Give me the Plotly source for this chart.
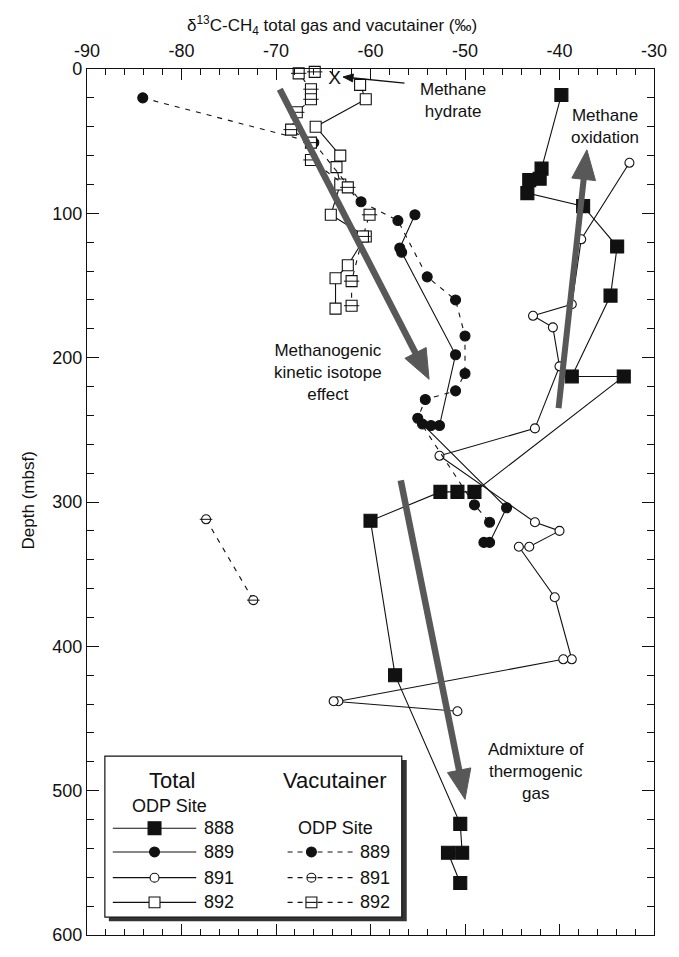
import math
import plotly.graph_objects as go

# ---------------- data (delta13C-CH4 permil, depth mbsf) ----------------
site888_total_d13c = [-39.8, -41.9, -42.1, -43.2, -43.4, -37.5, -33.9, -34.6, -38.7, -33.2,
                      -49.0, -50.8, -52.6, -60.0, -57.4, -50.5, -50.3, -51.8, -50.5]
site888_total_depth = [18, 69, 76, 77, 86, 95, 123, 157, 213, 213,
                       293, 293, 293, 313, 420, 523, 543, 543, 564]

site889_total_d13c = [-55.3, -56.9, -56.7, -51.0, -52.7, -53.6, -54.5, -45.6, -47.4, -48.0]
site889_total_depth = [101, 124, 127, 198, 247, 247, 246, 304, 328, 328]

site891_total_d13c = [-32.6, -37.7, -38.7, -42.8, -40.7, -40.0, -42.6, -52.7, -42.6, -40.0,
                      -43.2, -44.3, -40.5, -38.7, -39.6, -63.4, -63.9, -50.8]
site891_total_depth = [65, 118, 163, 171, 179, 206, 249, 268, 314, 320,
                       331, 331, 366, 409, 409, 438, 438, 445]

site892_total_d13c = [-61.1, -60.5, -65.8, -63.2, -63.6, -63.2, -64.2, -60.5, -62.4, -63.7, -63.7]
site892_total_depth = [11, 21, 40, 60, 68, 80, 101, 116, 136, 145, 166]

site889_vac_d13c = [-84.1, -66.0, -61.0, -57.1, -54.0, -51.0, -50.0, -50.0, -51.0, -54.2, -55.0, -49.0, -47.4]
site889_vac_depth = [20, 51, 92, 105, 144, 160, 185, 211, 223, 229, 242, 302, 314]

site891_vac_d13c = [-77.4, -72.4]
site891_vac_depth = [312, 368]

site892_vac_d13c = [-65.9, -67.6, -66.3, -66.3, -67.8, -68.4, -66.3, -66.3, -62.4, -60.1, -60.8, -62.0, -62.0]
site892_vac_depth = [2, 3, 14, 21, 30, 42, 51, 63, 82, 101, 116, 147, 164]

hydrate_d13c = [-63.8]
hydrate_depth = [7]

x_tick_values = [-90, -80, -70, -60, -50, -40, -30]
x_tick_labels = ["-90", "-80", "-70", "-60", "-50", "-40", "-30"]
y_tick_values = [0, 100, 200, 300, 400, 500, 600]
y_tick_labels = ["0", "100", "200", "300", "400", "500", "600"]

legend_total_sites = ["888", "889", "891", "892"]
legend_vac_sites = ["889", "891", "892"]

# ---------------- style ----------------
FONT = "Liberation Sans, Arial, Helvetica, sans-serif"
INK = "#111111"
ARROW = "#585858"
W, H = 679, 957
PL, PR, PT, PB = 87, 658, 69, 945
X0, X1, Y0, Y1 = -90.0, -30.0, 0.0, 600.0
SX = (PR - PL) / (X1 - X0)
SY = (PB - PT) / (Y1 - Y0)


def px(x):
    return (x - PL) / (PR - PL)


def py(y):
    return (PB - y) / (PB - PT)


fig = go.Figure()


def add_series(x, y, symbol, fill, size, dash, bar=False):
    fig.add_trace(go.Scatter(
        x=x, y=y, mode="lines+markers",
        line=dict(color=INK, width=1.1, dash=dash),
        marker=dict(symbol=symbol, size=size, color=fill, line=dict(color=INK, width=1.1)),
        showlegend=False, hoverinfo="skip", cliponaxis=False))
    if bar:
        fig.add_trace(go.Scatter(
            x=x, y=y, mode="markers",
            marker=dict(symbol="line-ew", size=size, line=dict(color=INK, width=1)),
            showlegend=False, hoverinfo="skip", cliponaxis=False))


DASH = "5px,6px"
add_series(site888_total_d13c, site888_total_depth, "square", INK, 13, "solid")
add_series(site889_total_d13c, site889_total_depth, "circle", INK, 10, "solid")
add_series(site891_total_d13c, site891_total_depth, "circle", "white", 9, "solid")
add_series(site892_total_d13c, site892_total_depth, "square", "white", 11, "solid")
add_series(site889_vac_d13c, site889_vac_depth, "circle", INK, 10, DASH)
add_series(site891_vac_d13c, site891_vac_depth, "circle", "white", 9, DASH, bar=True)
add_series(site892_vac_d13c, site892_vac_depth, "square", "white", 11, DASH, bar=True)

fig.add_trace(go.Scatter(
    x=hydrate_d13c, y=hydrate_depth, mode="text", text=["X"],
    textfont=dict(family=FONT, size=19, color=INK),
    showlegend=False, hoverinfo="skip"))

ann = []
shapes = []


# ---------------- arrows drawn as shapes (shaft + triangular head) ----------------
def arrow(tail, tip, color, width, head_len, head_half):
    tx, ty = PL + (tail[0] - X0) * SX, PT + (tail[1] - Y0) * SY
    hx, hy = PL + (tip[0] - X0) * SX, PT + (tip[1] - Y0) * SY
    L = math.hypot(hx - tx, hy - ty)
    ux, uy = (hx - tx) / L, (hy - ty) / L
    nx, ny = -uy, ux
    bx, by = hx - ux * head_len, hy - uy * head_len

    def back(xp, yp):
        return X0 + (xp - PL) / SX, Y0 + (yp - PT) / SY

    sx0, sy0 = back(tx, ty)
    sx1, sy1 = back(bx + ux * 2, by + uy * 2)
    shapes.append(dict(type="line", xref="x", yref="y", x0=sx0, y0=sy0, x1=sx1, y1=sy1,
                       line=dict(color=color, width=width), layer="above"))
    p1 = back(hx, hy)
    p2 = back(bx + nx * head_half, by + ny * head_half)
    p3 = back(bx - nx * head_half, by - ny * head_half)
    path = "M {:.4f},{:.4f} L {:.4f},{:.4f} L {:.4f},{:.4f} Z".format(p1[0], p1[1], p2[0], p2[1], p3[0], p3[1])
    shapes.append(dict(type="path", xref="x", yref="y", path=path, fillcolor=color,
                       line=dict(color=color, width=1), layer="above"))


arrow((-69.6, 14), (-53.8, 215), ARROW, 6.5, 30, 12)
arrow((-40.1, 235), (-37.1, 56), ARROW, 6.0, 30, 12)
arrow((-56.8, 285), (-50.0, 506), ARROW, 6.5, 30, 12)
arrow((-56.4, 9.8), (-62.9, 5.5), INK, 1.3, 10, 4)


def label(x, y, t, size=17):
    ann.append(dict(x=x, y=y, xref="x", yref="y", text=t, showarrow=False,
                    font=dict(family=FONT, size=size, color=INK),
                    xanchor="center", yanchor="middle", align="center"))


label(-51.3, 21.5, "Methane<br>hydrate")
label(-35.2, 39.5, "Methane<br>oxidation")
label(-64.5, 210, "Methanogenic<br>kinetic isotope<br>effect")
label(-42.5, 487, "Admixture of<br>thermogenic<br>gas")

# axis titles
ann.append(dict(x=px(334), y=py(25), xref="paper", yref="paper", showarrow=False,
                text="δ<sup>13</sup>C-CH<sub>4</sub> total gas and vacutainer (‰)",
                font=dict(family=FONT, size=17, color=INK), xanchor="center", yanchor="middle"))
ann.append(dict(x=px(28), y=py(505), xref="paper", yref="paper", showarrow=False,
                text="Depth (mbsf)", textangle=-90,
                font=dict(family=FONT, size=17, color=INK), xanchor="center", yanchor="middle"))

# ---------------- legend box (drawn) ----------------
shapes.append(dict(type="rect", xref="paper", yref="paper", layer="above",
                   x0=px(109), x1=px(409), y0=py(931), y1=py(768),
                   fillcolor="#333333", line=dict(width=0)))
shapes.append(dict(type="rect", xref="paper", yref="paper", layer="above",
                   x0=px(105), x1=px(404), y0=py(927), y1=py(764),
                   fillcolor="white", line=dict(color=INK, width=1.2)))


def ptext(x, y, t, size=18, anchor="center"):
    ann.append(dict(x=px(x), y=py(y), xref="paper", yref="paper", text=t, showarrow=False,
                    font=dict(family=FONT, size=size, color=INK),
                    xanchor=anchor, yanchor="middle"))


def hline(x0, x1, y, dash="solid"):
    shapes.append(dict(type="line", xref="paper", yref="paper", layer="above",
                       x0=px(x0), x1=px(x1), y0=py(y), y1=py(y),
                       line=dict(color=INK, width=1.1, dash=dash)))


def glyph(kind, cx, cy):
    if kind in ("sq_fill", "sq_open", "sq_bar"):
        r = 6.5 if kind == "sq_fill" else 5.5
        shapes.append(dict(type="rect", xref="paper", yref="paper", layer="above",
                           x0=px(cx - r), x1=px(cx + r), y0=py(cy + r), y1=py(cy - r),
                           fillcolor=INK if kind == "sq_fill" else "white",
                           line=dict(color=INK, width=1.1)))
    else:
        r = 5 if kind == "ci_fill" else 4.5
        shapes.append(dict(type="circle", xref="paper", yref="paper", layer="above",
                           x0=px(cx - r), x1=px(cx + r), y0=py(cy + r), y1=py(cy - r),
                           fillcolor=INK if kind == "ci_fill" else "white",
                           line=dict(color=INK, width=1.1)))
    if kind in ("sq_bar", "ci_bar"):
        r = 5.5 if kind == "sq_bar" else 4.5
        hline(cx - r, cx + r, cy)


ptext(173, 789, "Total", 22)
ptext(337, 789, "Vacutainer", 22)
ptext(170, 815, "ODP Site", 18)
ptext(337, 837, "ODP Site", 18)

total_kinds = ["sq_fill", "ci_fill", "ci_open", "sq_open"]
total_rows = [837, 861, 887, 912]
for site, kind, yy in zip(legend_total_sites, total_kinds, total_rows):
    hline(113, 197, yy)
    glyph(kind, 155, yy)
    ptext(203, yy, site, 18, "left")

vac_kinds = ["ci_fill", "ci_bar", "sq_bar"]
vac_rows = [861, 887, 912]
for site, kind, yy in zip(legend_vac_sites, vac_kinds, vac_rows):
    hline(289, 356, yy, "5px,5px")
    glyph(kind, 313, yy)
    ptext(360, yy, site, 18, "left")

axis_common = dict(showgrid=False, zeroline=False, showline=True, linecolor=INK, linewidth=1.4,
                   mirror="ticks", ticks="inside", tickcolor=INK, tickwidth=1.2,
                   tickfont=dict(family=FONT, size=18, color=INK))

fig.update_layout(
    width=W, height=H, autosize=False,
    margin=dict(l=PL, r=W - PR, t=PT, b=H - PB, pad=0),
    paper_bgcolor="white", plot_bgcolor="white",
    showlegend=False,
    xaxis=dict(range=[X0, X1], side="top", tickmode="array", tickvals=x_tick_values,
               ticktext=x_tick_labels, ticklen=11, ticklabelstandoff=4,
               minor=dict(dtick=2, tick0=-90, ticks="inside", ticklen=6, tickcolor=INK, tickwidth=1),
               **axis_common),
    yaxis=dict(range=[Y1, Y0], tickmode="array", tickvals=y_tick_values, ticktext=y_tick_labels,
               ticklen=12,
               minor=dict(dtick=20, tick0=0, ticks="inside", ticklen=7, tickcolor=INK, tickwidth=1),
               **axis_common),
    annotations=ann,
    shapes=shapes,
)

fig.write_html("out.html")
